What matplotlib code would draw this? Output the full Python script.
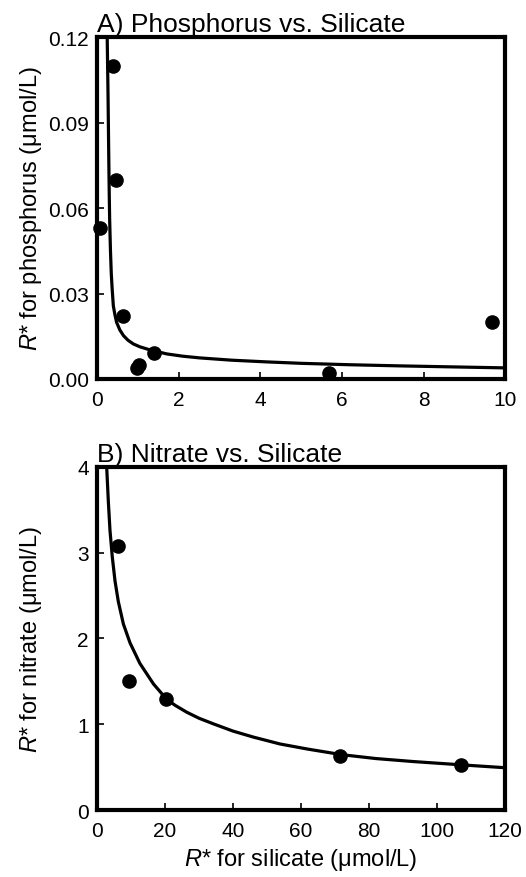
import matplotlib
matplotlib.use("Agg")
import matplotlib.pyplot as plt

plt.rcParams["font.family"] = ["Liberation Sans", "DejaVu Sans"]
plt.rcParams["mathtext.fontset"] = "custom"
plt.rcParams["mathtext.rm"] = "Liberation Sans"
plt.rcParams["mathtext.it"] = "Liberation Sans:italic"

# --- Painel A: fosforo vs silicato ---
si_a = [0.07, 0.38, 0.46, 0.64, 0.97, 1.04, 1.40, 5.69, 9.67]
p_a = [0.053, 0.110, 0.070, 0.022, 0.004, 0.005, 0.009, 0.002, 0.020]
# curva ajustada
curve_a_x = [0.25, 0.27, 0.28, 0.29, 0.30, 0.31, 0.33, 0.35, 0.37, 0.40, 0.44, 0.48,
             0.56, 0.65, 0.76, 0.89, 1.05, 1.30, 1.71, 2.10, 2.52, 3.30, 4.16,
             5.0, 6.2, 7.43, 8.7, 10.0]
curve_a_y = [0.120, 0.100, 0.088, 0.076, 0.065, 0.056, 0.045, 0.037, 0.032, 0.0257,
             0.0225, 0.0199, 0.0172, 0.0152, 0.0136, 0.0123, 0.0113, 0.0102, 0.0088,
             0.0080, 0.0074, 0.0066, 0.0060, 0.0055, 0.0050, 0.0046, 0.00425, 0.0039]

# --- Painel B: nitrato vs silicato ---
si_b = [6.3, 9.5, 20.2, 71.3, 107.0]
n_b = [3.08, 1.50, 1.29, 0.63, 0.53]
curve_b_x = [2.85, 3.33, 3.82, 4.5, 5.3, 6.27, 7.75, 9.7, 12.6, 16.6, 20.5, 23.0,
             26.4, 30.0, 34.2, 40.0, 46.0, 53.8, 62.0, 72.0, 82.0, 93.0, 107.7, 120.0]
curve_b_y = [4.0, 3.60, 3.26, 2.95, 2.67, 2.43, 2.17, 1.95, 1.71, 1.47, 1.29, 1.22,
             1.14, 1.07, 1.005, 0.92, 0.85, 0.77, 0.71, 0.645, 0.60, 0.565, 0.525, 0.493]

fig = plt.figure(figsize=(5.26, 8.78), dpi=100)
ax1 = fig.add_axes([0.1844, 0.5672, 0.776, 0.3895])
ax2 = fig.add_axes([0.1844, 0.0763, 0.776, 0.3907])


def style(ax):
    for s in ax.spines.values():
        s.set_linewidth(3)
    ax.tick_params(direction="in", length=5, width=1.2, labelsize=15)
    ax.tick_params(axis="x", pad=8)
    ax.tick_params(axis="y", pad=6)


ax1.plot(curve_a_x, curve_a_y, color="black", lw=2.3, solid_joinstyle="round")
ax1.plot(si_a, p_a, "o", color="black", ms=9.5, clip_on=False)
ax1.set_xlim(0, 10)
ax1.set_ylim(0, 0.12)
ax1.set_xticks([0, 2, 4, 6, 8, 10])
ax1.set_yticks([0, 0.03, 0.06, 0.09, 0.12])
ax1.set_yticklabels(["0.00", "0.03", "0.06", "0.09", "0.12"])
ax1.set_ylabel("$R$* for phosphorus (μmol/L)", fontsize=17)
ax1.set_title("A) Phosphorus vs. Silicate", loc="left", fontsize=19, pad=4)
style(ax1)

ax2.plot(curve_b_x, curve_b_y, color="black", lw=2.3, solid_joinstyle="round")
ax2.plot(si_b, n_b, "o", color="black", ms=9.5, clip_on=False)
ax2.set_xlim(0, 120)
ax2.set_ylim(0, 4)
ax2.set_xticks([0, 20, 40, 60, 80, 100, 120])
ax2.set_yticks([0, 1, 2, 3, 4])
ax2.set_ylabel("$R$* for nitrate (μmol/L)", fontsize=17)
ax2.set_xlabel("$R$* for silicate (μmol/L)", fontsize=17)
ax2.set_title("B) Nitrate vs. Silicate", loc="left", fontsize=19, pad=4)
style(ax2)

ax1.yaxis.set_label_coords(-0.13, 0.5)
ax2.yaxis.set_label_coords(-0.13, 0.5)

fig.savefig("out.png", dpi=100)
